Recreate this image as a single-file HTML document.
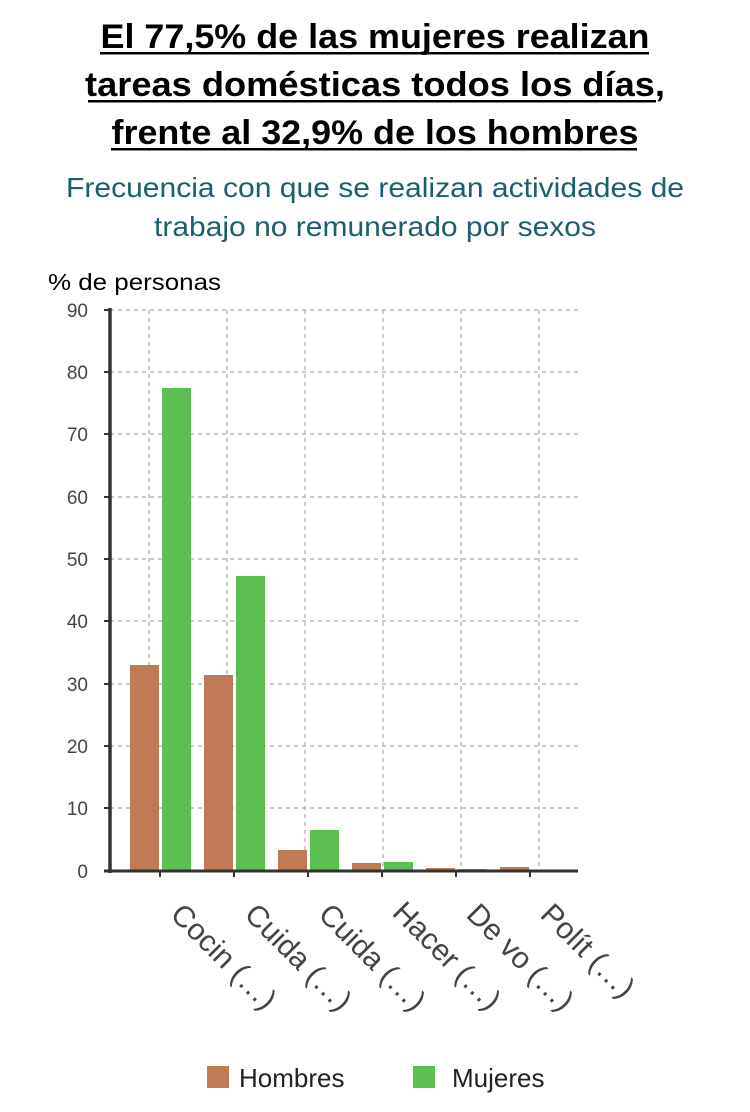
<!DOCTYPE html>
<html><head><meta charset="utf-8"><style>
html,body{margin:0;padding:0;background:#fff;}
svg{display:block;font-family:"Liberation Sans",Arial,sans-serif;}
</style></head><body>
<svg width="750" height="1112" viewBox="0 0 750 1112" xmlns="http://www.w3.org/2000/svg">
<g font-weight="bold" font-size="34" fill="#000" text-anchor="middle">
<text x="375" y="48" textLength="549" lengthAdjust="spacingAndGlyphs">El 77,5% de las mujeres realizan</text>
<text x="375" y="96" textLength="580" lengthAdjust="spacingAndGlyphs">tareas domésticas todos los días,</text>
<text x="375" y="144" textLength="527" lengthAdjust="spacingAndGlyphs">frente al 32,9% de los hombres</text>
</g>
<rect x="100" y="52" width="549" height="2.5" fill="#000"/>
<rect x="88" y="100" width="568" height="2.5" fill="#000"/>
<rect x="111" y="148" width="526" height="2.5" fill="#000"/>
<g font-size="28" fill="#1c5f6c" text-anchor="middle">
<text x="375" y="197" textLength="618" lengthAdjust="spacingAndGlyphs">Frecuencia con que se realizan actividades de</text>
<text x="375" y="236" textLength="442" lengthAdjust="spacingAndGlyphs">trabajo no remunerado por sexos</text>
</g>
<text x="48" y="290" font-size="23" fill="#000" textLength="173" lengthAdjust="spacingAndGlyphs">% de personas</text>
<g stroke="#bbb" stroke-width="1.5" stroke-dasharray="4,4">
<line x1="110" y1="310" x2="578" y2="310"/><line x1="110" y1="372" x2="578" y2="372"/>
<line x1="110" y1="434" x2="578" y2="434"/><line x1="110" y1="497" x2="578" y2="497"/>
<line x1="110" y1="559" x2="578" y2="559"/><line x1="110" y1="621" x2="578" y2="621"/>
<line x1="110" y1="684" x2="578" y2="684"/><line x1="110" y1="746" x2="578" y2="746"/>
<line x1="110" y1="808" x2="578" y2="808"/>
<line x1="149" y1="310" x2="149" y2="871"/><line x1="227" y1="310" x2="227" y2="871"/>
<line x1="305" y1="310" x2="305" y2="871"/><line x1="383" y1="310" x2="383" y2="871"/>
<line x1="461" y1="310" x2="461" y2="871"/><line x1="539" y1="310" x2="539" y2="871"/>
</g>
<g font-size="19" fill="#444" text-anchor="end">
<text x="88" y="317">90</text><text x="88" y="379">80</text><text x="88" y="441">70</text>
<text x="88" y="504">60</text><text x="88" y="566">50</text><text x="88" y="628">40</text>
<text x="88" y="691">30</text><text x="88" y="753">20</text><text x="88" y="815">10</text>
<text x="88" y="878">0</text>
</g>
<g fill="#c07a55">
<rect x="130" y="665" width="29" height="206"/>
<rect x="204" y="675" width="29" height="196"/>
<rect x="278" y="850" width="29" height="21"/>
<rect x="352" y="863" width="29" height="8"/>
<rect x="426" y="868" width="29" height="3"/>
<rect x="500" y="867" width="29" height="4"/>
</g>
<g fill="#5bbf52">
<rect x="162" y="388" width="29" height="483"/>
<rect x="236" y="576" width="29" height="295"/>
<rect x="310" y="830" width="29" height="41"/>
<rect x="384" y="862" width="29" height="9"/>
<rect x="458" y="869" width="29" height="2"/>
</g>
<g stroke="#333">
<line x1="110" y1="308" x2="110" y2="873" stroke-width="3.5"/>
<line x1="104" y1="871" x2="578" y2="871" stroke-width="3"/>
<g stroke-width="2">
<line x1="104" y1="310" x2="110" y2="310"/><line x1="104" y1="372" x2="110" y2="372"/>
<line x1="104" y1="434" x2="110" y2="434"/><line x1="104" y1="497" x2="110" y2="497"/>
<line x1="104" y1="559" x2="110" y2="559"/><line x1="104" y1="621" x2="110" y2="621"/>
<line x1="104" y1="684" x2="110" y2="684"/><line x1="104" y1="746" x2="110" y2="746"/>
<line x1="104" y1="808" x2="110" y2="808"/>
<line x1="160" y1="871" x2="160" y2="877"/><line x1="234" y1="871" x2="234" y2="877"/>
<line x1="308" y1="871" x2="308" y2="877"/><line x1="382" y1="871" x2="382" y2="877"/>
<line x1="456" y1="871" x2="456" y2="877"/><line x1="530" y1="871" x2="530" y2="877"/>
</g></g>
<g font-size="30" fill="#444">
<text transform="translate(169,916) rotate(45)">Cocin (…)</text>
<text transform="translate(243,916) rotate(45)">Cuida (…)</text>
<text transform="translate(317,916) rotate(45)">Cuida (…)</text>
<text transform="translate(391,914) rotate(45)">Hacer (…)</text>
<text transform="translate(465,916) rotate(45)">De vo (…)</text>
<text transform="translate(539,916) rotate(45)">Polít (…)</text>
</g>
<rect x="207" y="1066" width="22" height="22" fill="#c07a55"/>
<text x="239" y="1087" font-size="26" fill="#222">Hombres</text>
<rect x="413" y="1066" width="22" height="22" fill="#5bbf52"/>
<text x="452" y="1087" font-size="26" fill="#222">Mujeres</text>
</svg>
</body></html>
